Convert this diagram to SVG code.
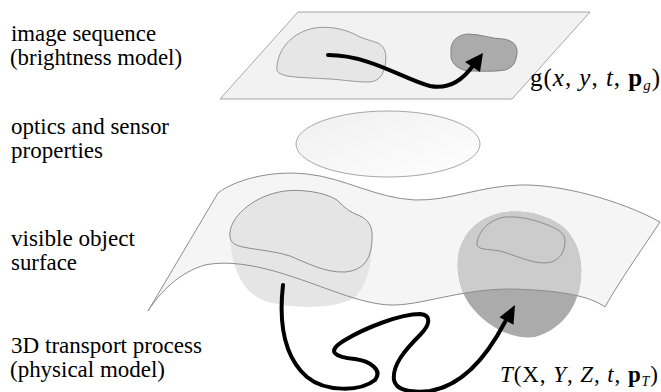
<svg xmlns="http://www.w3.org/2000/svg" width="661" height="392" viewBox="0 0 661 392">
  <style>
    .outline { fill: none; stroke: #8c8c8c; stroke-width: 1; }
    .flow { fill: none; stroke: #000; stroke-width: 4; stroke-linecap: round; }
    .head { fill: #000; }
  </style>
  <defs>
    <linearGradient id="lensFill" x1="0" y1="0" x2="1" y2="1">
      <stop offset="0" stop-color="#efefef"/>
      <stop offset="1" stop-color="#ffffff"/>
    </linearGradient>
    <clipPath id="surfaceClip">
      <path d="M148,311 L218,193 C235,180 270,170 307,174 C345,178 375,198 415,200 C450,201 480,186 520,185 C560,184 620,200 660,222 C645,245 620,280 605,307 C590,296 560,290 510,289 C460,289 420,306 390,305 C360,304 320,285 290,276 C260,266 230,260 205,265 C180,272 160,292 148,311 Z"/>
    </clipPath>
  </defs>

  <!-- text captions on the left -->
  <g id="captions" font-family="'Liberation Serif', 'Times New Roman', serif" font-size="23">
    <text x="11" y="41" textLength="145" lengthAdjust="spacingAndGlyphs">image sequence</text>
    <text x="10" y="65" textLength="172" lengthAdjust="spacingAndGlyphs">(brightness model)</text>
    <text x="11" y="134" textLength="158" lengthAdjust="spacingAndGlyphs">optics and sensor</text>
    <text x="11" y="158" textLength="92" lengthAdjust="spacingAndGlyphs">properties</text>
    <text x="11" y="246" textLength="124" lengthAdjust="spacingAndGlyphs">visible object</text>
    <text x="11" y="270" textLength="66" lengthAdjust="spacingAndGlyphs">surface</text>
    <text x="11" y="353" textLength="191" lengthAdjust="spacingAndGlyphs">3D transport process</text>
    <text x="10" y="377" textLength="155" lengthAdjust="spacingAndGlyphs">(physical model)</text>
  </g>

  <!-- image plane with two brightness patches -->
  <g id="image-plane">
    <polygon points="298,12 590,12 512,99 220,99" fill="#f2f2f2" stroke="#a6a6a6" stroke-width="1"/>
    <path d="M277,67 C278,50 290,35 310,29 C325,25 345,28 360,37 C368,40 372,41 378,43 C386,47 387,56 385,66 C383,76 378,82 368,82 C355,82 345,80 330,79 C315,78 300,78 287,76 C279,74 276,72 277,67 Z" fill="#e6e6e6" stroke="#999" stroke-width="1"/>
    <path d="M451,48 C452,40 458,35 468,34 C480,34 492,39 503,39 C512,40 518,45 517,53 C516,60 515,67 505,70 C495,72 480,71 470,71 C460,71 451,64 451,56 Z" fill="#ababab" stroke="#808080" stroke-width="1"/>
    <text x="530" y="86" font-family="'Liberation Serif', 'Times New Roman', serif" font-size="25" textLength="130" lengthAdjust="spacing">g(<tspan font-style="italic">x</tspan>, <tspan font-style="italic">y</tspan>, <tspan font-style="italic">t</tspan>, <tspan font-weight="bold">p</tspan><tspan font-style="italic" font-size="15" dy="4">g</tspan><tspan dy="-4">)</tspan></text>
  </g>

  <!-- optics (lens) -->
  <g id="optics">
    <ellipse cx="388" cy="144" rx="92" ry="33" fill="url(#lensFill)" stroke="#a6a6a6" stroke-width="1"/>
  </g>

  <!-- object surface with two objects -->
  <g id="surface">
    <path d="M148,311 L218,193 C235,180 270,170 307,174 C345,178 375,198 415,200 C450,201 480,186 520,185 C560,184 620,200 660,222 C645,245 620,280 605,307 C590,296 560,290 510,289 C460,289 420,306 390,305 C360,304 320,285 290,276 C260,266 230,260 205,265 C180,272 160,292 148,311 Z" fill="#f5f5f5"/>
  </g>

  <g id="object-left">
    <path d="M230,232 C232,215 255,195 285,191 C300,189 325,192 337,200 C345,208 350,212 358,215 C370,220 373,228 372,240 C372,268 365,292 350,300 C330,309 290,309 265,301 C240,292 230,262 230,232 Z" fill="#e5e5e5"/>
    <path class="outline" d="M230,232 C232,215 255,195 285,191 C300,189 325,192 337,200 C345,208 350,212 358,215 C370,220 373,228 372,240 C371,258 365,270 345,272 C325,273 305,262 290,256 C275,251 257,250 243,247 C232,245 229,240 230,232 Z"/>
  </g>

  <g id="object-right">
    <path d="M500,213 C520,209 545,213 563,227 C578,240 584,262 580,285 C576,310 560,330 535,337 C510,340 485,325 470,305 C458,288 455,265 460,248 C466,230 480,218 500,213 Z" fill="#ababab"/>
    <path clip-path="url(#surfaceClip)" d="M500,213 C520,209 545,213 563,227 C578,240 584,262 580,285 C576,310 560,330 535,337 C510,340 485,325 470,305 C458,288 455,265 460,248 C466,230 480,218 500,213 Z" fill="#cccccc"/>
    <path class="outline" d="M477,244 C478,232 488,220 505,217 C520,216 535,220 545,224 C555,228 566,232 565,242 C564,255 558,262 545,263 C530,263 515,255 500,251 C488,249 477,250 477,244 Z"/>
  </g>

  <!-- surface edge drawn over the objects -->
  <g id="surface-edge">
    <path class="outline" stroke="#999" d="M148,311 L218,193 C235,180 270,170 307,174 C345,178 375,198 415,200 C450,201 480,186 520,185 C560,184 620,200 660,222 C645,245 620,280 605,307 C590,296 560,290 510,289 C460,289 420,306 390,305 C360,304 320,285 290,276 C260,266 230,260 205,265 C180,272 160,292 148,311 Z"/>
    <text x="500" y="382" font-family="'Liberation Serif', 'Times New Roman', serif" font-size="23" textLength="158" lengthAdjust="spacing"><tspan font-style="italic">T</tspan>(X, <tspan font-style="italic">Y</tspan>, <tspan font-style="italic">Z</tspan>, <tspan font-style="italic">t</tspan>, <tspan font-weight="bold">p</tspan><tspan font-style="italic" font-size="14" dy="4">T</tspan><tspan dy="-4">)</tspan></text>
  </g>

  <!-- motion paths -->
  <g id="connectors">
    <path class="flow" d="M328,55 C370,55 405,80 430,86 C450,90 463,79 472,67"/>
    <polygon class="head" points="483,53 465,62 480,72"/>
    <path class="flow" d="M283,285 C279,320 282,355 307,377 C325,392 360,392 375,380 C383,370 370,361 355,359 C335,357 325,352 345,340 C365,328 400,314 420,314 C432,315 430,325 420,335 C405,350 392,365 394,380 C396,390 410,393 430,391 C460,386 485,360 505,322"/>
    <polygon class="head" points="515,305 499.5,317.2 513.5,324.8"/>
  </g>
</svg>
